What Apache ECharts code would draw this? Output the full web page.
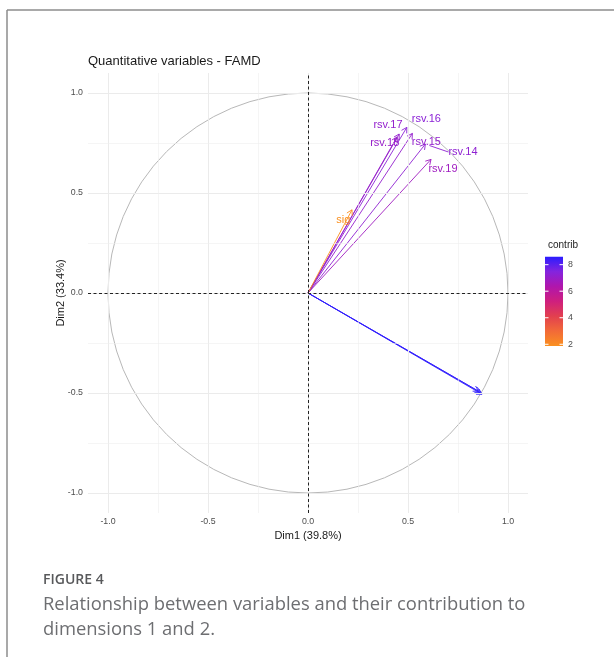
<!DOCTYPE html>
<html>
<head>
<meta charset="utf-8">
<script src="https://cdn.jsdelivr.net/npm/echarts@6/dist/echarts.min.js"></script>
<style>
  html, body { margin: 0; padding: 0; background: #fff; }
  #chart { width: 614px; height: 657px; }
</style>
</head>
<body>
<div id="chart"></div>
<script>
// Quantitative variables projected on FAMD dimensions 1 and 2
const variables = ['rsv.14', 'rsv.15', 'rsv.16', 'rsv.17', 'rsv.18', 'rsv.19', 'sig', 'q.a', 'q.b', 'q.c'];
const dim1 = [0.587, 0.522, 0.494, 0.456, 0.445, 0.615, 0.220, 0.862, 0.870, 0.853];
const dim2 = [0.745, 0.798, 0.828, 0.795, 0.780, 0.668, 0.416, -0.497, -0.506, -0.491];
const contrib = [7.2, 7.1, 7.3, 7.1, 7.0, 6.8, 1.87, 8.6, 8.55, 8.5];

// Axis ticks and labels
const axisTicks = [-1, -0.5, 0, 0.5, 1];
const axisTickLabels = ['-1.0', '-0.5', '0.0', '0.5', '1.0'];
const minorGrid = [-0.75, -0.25, 0.25, 0.75];
const circleRadius = [1];

// Contribution colour scale
const contribRange = [1.87, 8.6];
const contribTicks = [2, 4, 6, 8];
const contribColors = ['#FA9020', '#F26A38', '#E2404F', '#CF1F7E', '#B016AC', '#8424DE', '#2A1CFF'];

// Label placement relative to each arrow tip (px); third flag draws a leader segment
const labelOffsets = {
  'rsv.16': [19.6, -8.4],
  'rsv.17': [-11.2, -8.6],
  'rsv.18': [-12.3, 6],
  'rsv.15': [14, 9],
  'rsv.14': [37.6, 8, true],
  'rsv.19': [12, 9.6],
  'sig': [-8.7, 10.3]
};

const FONT = '"Liberation Sans", Arial, sans-serif';
const points = variables.map((n, i) => [dim1[i], dim2[i], contrib[i], n]);

const GRID = { left: 88, top: 73, width: 440, height: 440 };

function axisCfg(name, isY) {
  return {
    type: 'value', min: -1.1, max: 1.1,
    splitLine: { show: false },
    axisLine: { show: false },
    axisTick: { show: true, customValues: axisTicks, length: 3, lineStyle: { color: '#333', width: 1 } },
    axisLabel: {
      customValues: axisTicks,
      formatter: v => axisTickLabels[axisTicks.findIndex(t => Math.abs(t - v) < 1e-9)],
      fontSize: 8.8, color: '#4d4d4d', fontFamily: FONT, margin: isY ? 5 : 4
    },
    name: name, nameLocation: 'middle', nameGap: isY ? 22 : 17,
    nameMoveOverlap: false,
    nameRotate: isY ? 90 : 0,
    nameTextStyle: { fontSize: 11, color: '#1a1a1a', fontFamily: FONT }
  };
}

const gridMarks = [];
axisTicks.forEach(v => {
  gridMarks.push({ xAxis: v, lineStyle: { width: 1, color: '#ebebeb', type: 'solid' } });
  gridMarks.push({ yAxis: v, lineStyle: { width: 1, color: '#ebebeb', type: 'solid' } });
});
minorGrid.forEach(v => {
  gridMarks.push({ xAxis: v, lineStyle: { width: 0.6, color: '#efefef', type: 'solid' } });
  gridMarks.push({ yAxis: v, lineStyle: { width: 0.6, color: '#efefef', type: 'solid' } });
});

const chart = echarts.init(document.getElementById('chart'), null, { renderer: 'canvas' });

const barX = 545, barTop = 256.7, barW = 18, barH = 89.3;
const valToBarY = v => barTop + barH - (v - contribRange[0]) / (contribRange[1] - contribRange[0]) * barH;

const legendGraphics = [
  { type: 'text', x: 548, y: 245, style: { text: 'contrib', fontSize: 10, fill: '#1a1a1a', fontFamily: FONT, verticalAlign: 'middle' } },
  {
    type: 'rect', shape: { x: barX, y: barTop, width: barW, height: barH },
    style: {
      fill: {
        type: 'linear', x: 0, y: 1, x2: 0, y2: 0,
        colorStops: contribColors.map((c, i) => ({ offset: i / (contribColors.length - 1), color: c }))
      }
    }
  }
];
contribTicks.forEach(v => {
  const y = valToBarY(v);
  legendGraphics.push({ type: 'line', shape: { x1: barX, y1: y, x2: barX + 3.5, y2: y }, style: { stroke: '#fff', lineWidth: 1 } });
  legendGraphics.push({ type: 'line', shape: { x1: barX + barW - 3.5, y1: y, x2: barX + barW, y2: y }, style: { stroke: '#fff', lineWidth: 1 } });
  legendGraphics.push({ type: 'text', x: barX + barW + 5, y: y, style: { text: String(v), fontSize: 8.8, fill: '#4d4d4d', fontFamily: FONT, verticalAlign: 'middle' } });
});

const frameGraphics = [
  { type: 'line', shape: { x1: 7, y1: 10, x2: 614, y2: 10 }, style: { stroke: '#8c8c8c', lineWidth: 1.5 } },
  { type: 'line', shape: { x1: 7, y1: 10, x2: 7, y2: 657 }, style: { stroke: '#8c8c8c', lineWidth: 1.5 } }
];

const captionFont = '"Open Sans", "Noto Sans", sans-serif';
const captionGraphics = [
  { type: 'text', x: 43, y: 580, style: { text: 'FIGURE 4', fontSize: 14, fontWeight: 600, fill: '#58595b', fontFamily: captionFont, verticalAlign: 'middle' } },
  { type: 'text', x: 43, y: 605, style: { text: 'Relationship between variables and their contribution to', fontSize: 18.4, fill: '#6d6e71', fontFamily: captionFont, verticalAlign: 'middle' } },
  { type: 'text', x: 43, y: 630, style: { text: 'dimensions 1 and 2.', fontSize: 18.4, fill: '#6d6e71', fontFamily: captionFont, verticalAlign: 'middle' } }
];

chart.setOption({
  animation: false,
  backgroundColor: '#fff',
  title: {
    text: 'Quantitative variables - FAMD', left: 83, top: 50,
    textStyle: { fontSize: 13, fontWeight: 'normal', color: '#1a1a1a', fontFamily: FONT }
  },
  grid: GRID,
  xAxis: axisCfg('Dim1 (39.8%)', false),
  yAxis: axisCfg('Dim2 (33.4%)', true),
  visualMap: {
    type: 'continuous', show: false, dimension: 2, seriesIndex: [3, 4],
    min: contribRange[0], max: contribRange[1],
    inRange: { color: contribColors }
  },
  graphic: [].concat(frameGraphics, legendGraphics, captionGraphics),
  series: [
    { // panel grid
      type: 'line', data: [], z: 1, silent: true,
      markLine: { silent: true, symbol: ['none', 'none'], label: { show: false }, animation: false, data: gridMarks }
    },
    { // unit correlation circle
      type: 'custom', z: 2, silent: true, data: circleRadius.map(r => [0, 0, r]),
      renderItem: (params, api) => {
        const c = api.coord([api.value(0), api.value(1)]);
        const r = api.size([api.value(2), 0])[0];
        return { type: 'circle', shape: { cx: c[0], cy: c[1], r: r }, style: { stroke: '#b8b8b8', fill: null, lineWidth: 1 } };
      }
    },
    { // reference lines through the origin
      type: 'line', data: [], z: 3, silent: true,
      markLine: {
        silent: true, symbol: ['none', 'none'], label: { show: false }, animation: false,
        lineStyle: { color: '#222', width: 1, type: [3, 2.5] },
        data: [{ xAxis: 0 }, { yAxis: 0 }]
      }
    },
    { // variable arrows
      type: 'custom', z: 4, silent: true, data: points,
      encode: { x: 0, y: 1 },
      renderItem: (params, api) => {
        const o = api.coord([0, 0]);
        const p = api.coord([api.value(0), api.value(1)]);
        const color = api.visual('color');
        const ang = Math.atan2(p[1] - o[1], p[0] - o[0]);
        const L = 6, a = Math.PI / 6;
        const w1 = [p[0] - L * Math.cos(ang - a), p[1] - L * Math.sin(ang - a)];
        const w2 = [p[0] - L * Math.cos(ang + a), p[1] - L * Math.sin(ang + a)];
        return {
          type: 'group',
          children: [
            { type: 'line', shape: { x1: o[0], y1: o[1], x2: p[0], y2: p[1] }, style: { stroke: color, lineWidth: 0.9 } },
            { type: 'polyline', shape: { points: [w1, p, w2] }, style: { stroke: color, fill: null, lineWidth: 0.9 } }
          ]
        };
      }
    },
    { // variable labels
      type: 'custom', z: 5, silent: true, data: points,
      encode: { x: 0, y: 1 },
      renderItem: (params, api) => {
        const name = variables[params.dataIndex];
        const off = labelOffsets[name];
        if (!off) return null;
        const p = api.coord([api.value(0), api.value(1)]);
        const color = api.visual('color');
        const lx = p[0] + off[0], ly = p[1] + off[1];
        const children = [];
        if (off[2]) {
          const tw = echarts.format.getTextRect ? echarts.format.getTextRect(name, '11px ' + FONT).width : 31;
          children.push({ type: 'line', shape: { x1: p[0] + 4, y1: p[1] + 1.5, x2: lx - tw / 2, y2: ly }, style: { stroke: color, lineWidth: 0.9 } });
        }
        children.push({
          type: 'text', x: lx, y: ly,
          style: { text: name, fill: color, fontSize: 11, fontFamily: FONT, align: 'center', verticalAlign: 'middle' }
        });
        return { type: 'group', children: children };
      }
    }
  ]
});
</script>
</body>
</html>
